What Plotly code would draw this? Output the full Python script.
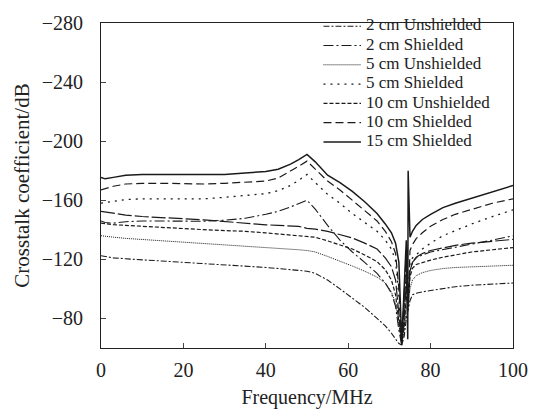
import plotly.graph_objects as go

freq = [0, 1, 3, 6, 10, 15, 20, 25, 30, 35, 40, 43, 46, 48, 50, 52, 55, 58, 61, 64,
        67, 69, 70.5, 71.5, 72.3, 73.0, 73.6, 74.1, 74.45, 74.55, 75.0, 75.6, 76.5,
        78, 80, 83, 86, 90, 95, 100]

cm2_unshielded = [-122.5, -122, -121, -120.4, -119.7, -119, -118.2, -117.5, -116.5, -115.5,
                  -114.5, -113.8, -113, -112.5, -112, -110.5, -106, -100, -94, -87.5,
                  -80, -75, -70, -66, -63, -62, -68, -80, -85, -87, -92, -96, -97,
                  -98, -99, -100.5, -101.5, -102.5, -103.5, -104]
cm2_shielded = [-146, -145, -144.5, -145.5, -146, -146, -145.8, -145.8, -146.5, -147.8,
                -150.5, -152.5, -155.5, -157.5, -160, -154, -143, -133, -125, -118,
                -110.5, -104, -97, -88, -72, -62, -85, -110, -95, -92, -112, -118, -121,
                -123, -125, -126.5, -128, -130, -133, -136]
cm5_unshielded = [-136, -135.5, -135, -134.2, -133.5, -132.5, -131.5, -130.7, -129.7, -128.8,
                  -128, -127.5, -127, -126.5, -126, -125, -122, -119, -115.5, -112,
                  -108, -104, -98, -90, -75, -63, -72, -88, -85, -86, -100, -106, -109,
                  -111, -112.5, -113.8, -114.5, -115, -115.5, -116]
cm5_shielded = [-158, -158.5, -159.5, -160.5, -161, -161, -161, -161, -162, -163,
                -164.5, -166.5, -170, -173.5, -177.5, -172, -164, -158, -151, -145,
                -139, -133, -127, -119, -95, -62, -92, -122, -95, -88, -118, -121, -123,
                -127, -131, -136, -139.5, -144, -149, -153.5]
cm10_unshielded = [-144.5, -144, -143.5, -143, -142.3, -141.5, -140.8, -140.1, -139.5, -139,
                   -137.9, -137.3, -136.7, -136.2, -135.7, -135, -132.5, -130, -127, -123,
                   -118.5, -113, -106, -96, -78, -62, -75, -95, -88, -90, -108, -114, -116.5,
                   -118, -119.5, -121.5, -123, -125, -126.5, -128]
cm10_shielded = [-167, -168, -169.5, -171, -171.5, -171.5, -171, -171, -171.5, -172,
                 -173, -175, -179.5, -183, -186.5, -181, -173, -167, -160, -153,
                 -146, -139, -132, -124, -100, -63, -95, -125, -100, -90, -126, -130, -134,
                 -138, -142.5, -147, -150.5, -154, -158, -161]
cm15_unshielded = [-152.5, -152, -151, -150, -149, -148, -147.5, -146.7, -145.5, -144.5,
                   -143.4, -143, -142.5, -142.3, -141, -140.5, -139, -137, -134.5, -131,
                   -127, -121, -115, -106, -82, -63, -80, -105, -90, -92, -112, -118, -121.5,
                   -124, -126, -128, -129.5, -131, -132.5, -133.5]
cm15_shielded = [-175.5, -174.5, -175.5, -177, -177.5, -177.5, -177, -177, -177.5, -178.5,
                 -179.5, -181, -184.5, -187.5, -191, -186, -177, -172, -166, -159,
                 -151, -144, -138, -131, -118, -64, -100, -133, -66, -180, -135, -139, -143,
                 -147, -150.5, -155, -158, -161.5, -166, -170]

# name, values, dash, width, listed in legend
series = [
    ("2 cm Unshielded", cm2_unshielded, "6px,2px,2px,2px", 1.1, True),
    ("2 cm Shielded", cm2_shielded, "10px,3px,2px,3px", 1.1, True),
    ("5 cm Unshielded", cm5_unshielded, "1px,1px", 1.0, True),
    ("5 cm Shielded", cm5_shielded, "2px,5px", 1.3, True),
    ("10 cm Unshielded", cm10_unshielded, "4px,2px", 1.2, True),
    ("10 cm Shielded", cm10_shielded, "8px,4px", 1.2, True),
    ("15 cm Unshielded", cm15_unshielded, "14px,3px", 1.2, False),
    ("15 cm Shielded", cm15_shielded, "solid", 1.5, True),
]

SERIF = "Liberation Serif, Times New Roman, serif"
INK = "#1a1a1a"

fig = go.Figure()
for name, vals, dash, w, show in series:
    fig.add_trace(go.Scatter(x=freq, y=vals, mode="lines", name=name, showlegend=False,
                             line=dict(color=INK, width=w, dash=dash)))

# legend drawn as paper-coordinate samples + labels (compact row spacing)
row = 0
for name, vals, dash, w, show in series:
    if not show:
        continue
    yp = 0.990 - row * 0.0593
    fig.add_shape(type="line", xref="paper", yref="paper", x0=0.540, x1=0.631,
                  y0=yp, y1=yp, line=dict(color=INK, width=w, dash=dash))
    fig.add_annotation(xref="paper", yref="paper", x=0.641, y=yp + 0.004, text=name,
                       showarrow=False, xanchor="left", yanchor="middle", borderpad=0,
                       font=dict(family=SERIF, size=17, color="#222"))
    row += 1

fig.update_layout(
    width=540, height=416,
    margin=dict(l=101, r=24, t=16, b=66),
    paper_bgcolor="white", plot_bgcolor="white",
    font=dict(family=SERIF, size=20, color="#222"),
    showlegend=False,
    xaxis=dict(range=[0, 100], tick0=0, dtick=20, ticks="inside", ticklen=5,
               showline=True, linecolor="#222", linewidth=1, mirror=True,
               showgrid=False, zeroline=False, ticklabelstandoff=4,
               tickfont=dict(family=SERIF, size=20),
               title=dict(text="Frequency/MHz", standoff=9,
                          font=dict(family=SERIF, size=20))),
    yaxis=dict(range=[-60, -280], tick0=-280, dtick=40, ticks="inside", ticklen=5,
               showline=True, linecolor="#222", linewidth=1, mirror=True,
               showgrid=False, zeroline=False, ticklabelstandoff=13,
               tickfont=dict(family=SERIF, size=20),
               title=dict(text="Crosstalk coefficient/dB", standoff=6,
                          font=dict(family=SERIF, size=21))),
)
fig.write_html("out.html")
